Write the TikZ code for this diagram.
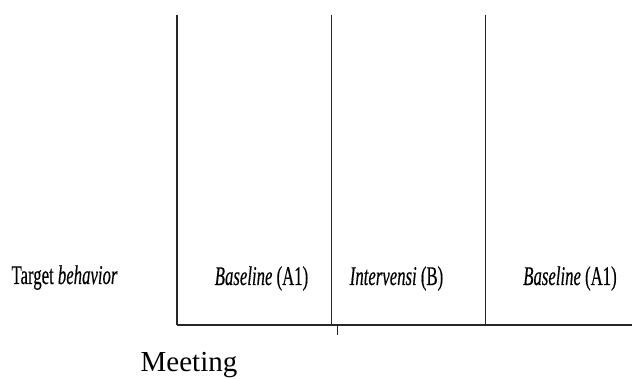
\documentclass[tikz,border=0pt]{standalone}
\usepackage{fontspec}
\setmainfont{Liberation Serif}
\newfontfamily\labfont{Liberation Serif}[FakeBold=0.5,ItalicFeatures={FakeBold=0.5}]
\begin{document}
\begin{tikzpicture}[x=1pt,y=1pt,
  vline/.style={draw=black!85,line width=1.4pt},
  hline/.style={draw=black!85,line width=1.8pt},
  lab/.style={anchor=base,inner sep=0pt,font=\labfont\fontsize{27}{30}\selectfont},
  meet/.style={anchor=base,inner sep=0pt,font=\fontsize{29}{32}\selectfont}]
\useasboundingbox[fill=white] (0,0) rectangle (632,379);
% axis points
\coordinate (t1) at (177,364);
\coordinate (b1) at (177,54);
\coordinate (t2) at (331.7,364);
\coordinate (b2) at (331.7,54);
\coordinate (t3) at (485.7,364);
\coordinate (b3) at (485.7,54);
\coordinate (xe) at (632,54);
\coordinate (k1) at (337.7,54);
\coordinate (k2) at (337.7,44);
\draw[vline] (t1) -- (b1);
\draw[vline] (t2) -- (b2);
\draw[vline] (t3) -- (b3);
\draw[hline] (b1) -- (xe);
\draw[line width=1pt,draw=black!85] (k1) -- (k2);
\node[lab] (tb) at (64.5,95) {\scalebox{0.62}[1]{Target \textit{behavior}}};
\node[lab] (ba1) at (261.5,94) {\scalebox{0.62}[1]{\textit{Baseline} (A1)}};
\node[lab] (ib) at (396.5,94) {\scalebox{0.62}[1]{\textit{Intervensi} (B)}};
\node[lab] (ba2) at (570,94) {\scalebox{0.62}[1]{\textit{Baseline} (A1)}};
\node[meet] (mt) at (189,7) {Meeting};
\end{tikzpicture}
\end{document}
